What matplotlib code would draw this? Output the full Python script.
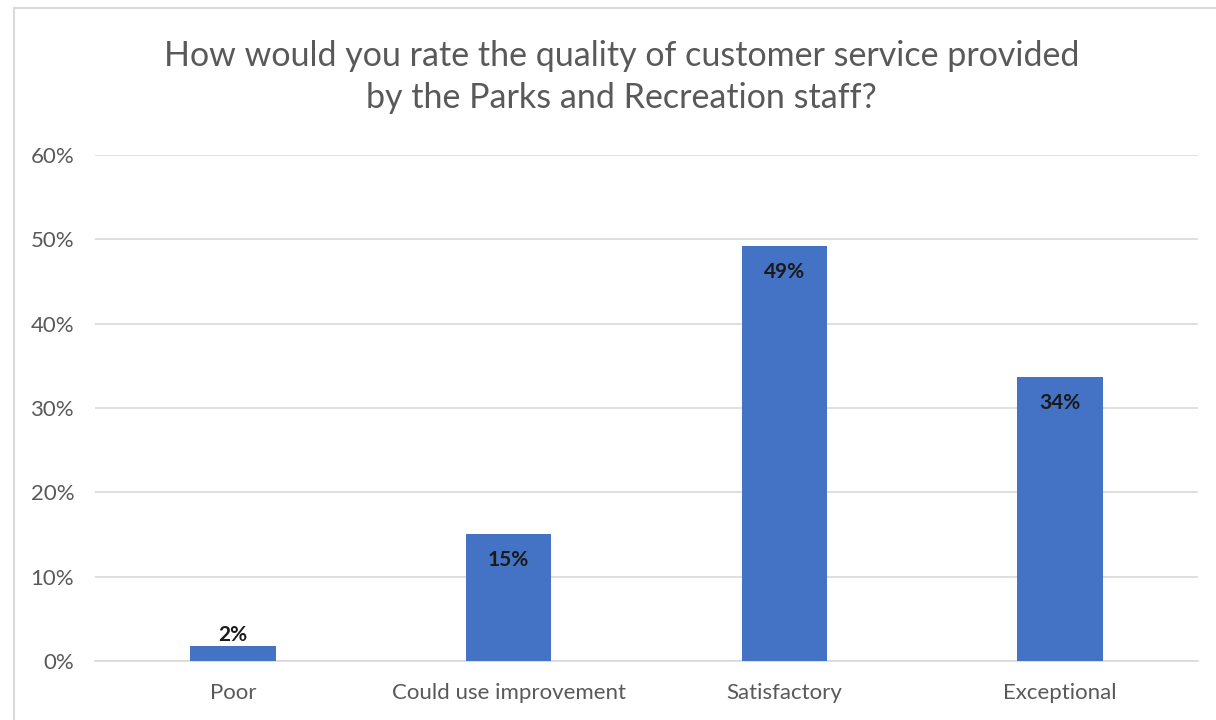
import matplotlib.pyplot as plt
from matplotlib.patches import Rectangle
from matplotlib.ticker import PercentFormatter

plt.rcParams["font.family"] = ["Lato", "DejaVu Sans"]

# ── Data ──────────────────────────────────────────────────────────
categories = ["Poor", "Could use improvement", "Satisfactory", "Exceptional"]
values = [1.8, 15.1, 49.2, 33.7]
labels = ["2%", "15%", "49%", "34%"]
yticks = [0, 10, 20, 30, 40, 50, 60]

# ── Chart ─────────────────────────────────────────────────────────
fig = plt.figure(figsize=(12.16, 7.2), dpi=100)
ax = fig.add_axes([0.0781, 0.0819, 0.9071, 0.7028])

x = range(len(categories))
bars = ax.bar(x, values, width=0.31, color="#4472C4", zorder=3)

for i, (v, lab) in enumerate(zip(values, labels)):
    if v < 5:
        ax.text(i, v + 0.1, lab, ha="center", va="bottom",
                fontsize=15, fontweight="bold", color="#1a1a1a", zorder=4)
    else:
        ax.text(i, v - 1.9, lab, ha="center", va="top",
                fontsize=15, fontweight="bold", color="#1a1a1a", zorder=4)

ax.set_xlim(-0.5, 3.5)
ax.set_ylim(0, 60)
ax.set_yticks(yticks)
ax.yaxis.set_major_formatter(PercentFormatter(decimals=0))
ax.set_xticks(list(x))
ax.set_xticklabels(categories)
ax.tick_params(axis="both", length=0, labelsize=16, colors="#595959")
ax.tick_params(axis="y", pad=15)
ax.tick_params(axis="x", pad=16)

ax.grid(axis="y", color="#D9D9D9", linewidth=1.2, zorder=0)
for s in ["top", "right", "left"]:
    ax.spines[s].set_visible(False)
ax.spines["bottom"].set_color("#D9D9D9")
ax.spines["bottom"].set_linewidth(1.2)

fig.text(0.511, 0.893,
         "How would you rate the quality of customer service provided\n"
         "by the Parks and Recreation staff?",
         ha="center", va="center", fontsize=24.5, color="#595959",
         linespacing=1.42)

# chart area border
fig.patches.append(Rectangle((14 / 1216, -0.01), 1.1, 1 - 8 / 720 + 0.01,
                             transform=fig.transFigure, fill=False,
                             edgecolor="#D9D9D9", linewidth=1.5))

plt.savefig("out.png", dpi=100)
plt.close()
